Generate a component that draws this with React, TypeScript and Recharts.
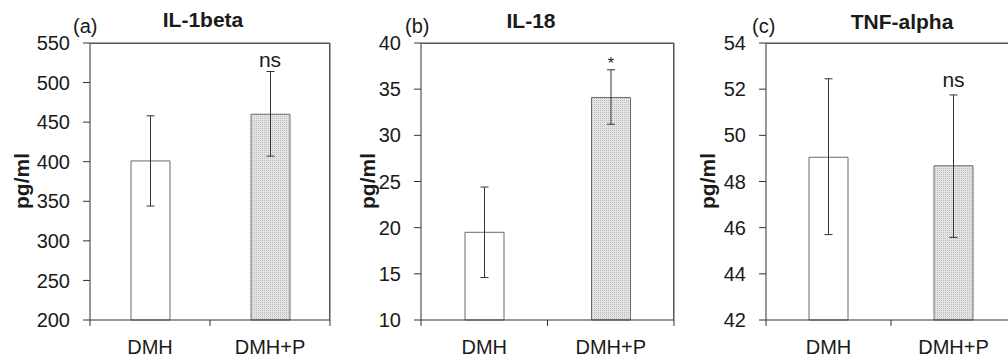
import React from 'react';
import {
  BarChart,
  Bar,
  XAxis,
  YAxis,
  ErrorBar,
  Cell,
  ReferenceDot,
  CartesianGrid,
} from 'recharts';

// ---------- data ----------
const categories = ['DMH', 'DMH+P'];

const il1bMean = [401, 460];
const il1bErrLow = [57, 53];
const il1bErrHigh = [57, 54];
const il1bSig = ['', 'ns'];
const il1bTicks = [200, 250, 300, 350, 400, 450, 500, 550];

const il18Mean = [19.5, 34.1];
const il18ErrLow = [4.9, 2.9];
const il18ErrHigh = [4.9, 3.0];
const il18Sig = ['', '*'];
const il18Ticks = [10, 15, 20, 25, 30, 35, 40];

const tnfMean = [49.05, 48.68];
const tnfErrLow = [3.35, 3.1];
const tnfErrHigh = [3.4, 3.07];
const tnfSig = ['', 'ns'];
const tnfTicks = [42, 44, 46, 48, 50, 52, 54];

const FONT = '"Liberation Sans", Arial, Helvetica, sans-serif';
const TEXT = '#1a1a1a';
const AXIS = '#333333';
const FRAME = '#555555';

const CHART_H = 359;
const MARGIN_TOP = 43;
const XAXIS_H = 39;

type Row = { name: string; pos: number; value: number; err: [number, number]; sig: string; errTop: number };

function buildRows(mean: number[], lo: number[], hi: number[], sig: string[]): Row[] {
  return categories.map((name, i) => ({
    name,
    pos: i + 0.5,
    value: mean[i],
    err: [lo[i], hi[i]],
    sig: sig[i],
    errTop: mean[i] + hi[i],
  }));
}

// x ticks: integers are band boundaries (tick marks), halves are category centres (labels)
const xTickValues = [0, 0.5, 1, 1.5, 2];

function XTick(props: any) {
  const { x, y, payload } = props;
  const v = payload.value as number;
  if (Number.isInteger(v)) {
    return <line x1={x} y1={y} x2={x} y2={y + 6} stroke={AXIS} strokeWidth={1} />;
  }
  return (
    <text x={x} y={y + 34} textAnchor="middle" fontSize={20} fill={TEXT} fontFamily={FONT}>
      {categories[Math.floor(v)]}
    </text>
  );
}

type PanelProps = {
  rows: Row[];
  ticks: number[];
  left: number;
  width: number;
  yAxisWidth: number;
  rightMargin: number;
  labelX: number;
  sigOffset: number;
  sigFontSize: number;
};

function Panel(p: PanelProps) {
  const domain: [number, number] = [p.ticks[0], p.ticks[p.ticks.length - 1]];
  const xDomain: [number, number] = [0, categories.length];
  const plotW = p.width - p.yAxisWidth - p.rightMargin;
  const plotH = CHART_H - MARGIN_TOP - XAXIS_H;
  return (
    <div style={{ position: 'absolute', left: p.left, top: 0, width: p.width, height: CHART_H }}>
      <BarChart
        width={p.width}
        height={CHART_H}
        data={p.rows}
        margin={{ top: MARGIN_TOP, right: p.rightMargin, bottom: 0, left: 0 }}
      >
        <CartesianGrid horizontalValues={[domain[1]]} verticalValues={[xDomain[1]]} stroke={FRAME} strokeWidth={1} />
        <XAxis
          dataKey="pos"
          type="number"
          domain={xDomain}
          ticks={xTickValues}
          interval={0}
          tickLine={false}
          tickSize={0}
          tickMargin={0}
          height={XAXIS_H}
          axisLine={{ stroke: AXIS }}
          tick={<XTick />}
        />
        <YAxis
          domain={domain}
          ticks={p.ticks}
          interval={0}
          width={p.yAxisWidth}
          tickSize={7}
          tickMargin={13}
          axisLine={{ stroke: AXIS }}
          tickLine={{ stroke: AXIS }}
          tick={{ fontSize: 20, fill: TEXT, fontFamily: FONT }}
          label={() => (
            <text
              x={p.labelX}
              y={181}
              transform={`rotate(-90, ${p.labelX}, 181)`}
              textAnchor="middle"
              dominantBaseline="central"
              fontSize={21}
              fontWeight="bold"
              fontFamily={FONT}
              fill={TEXT}
            >
              pg/ml
            </text>
          )}
        />
        <Bar dataKey="value" barSize={39} isAnimationActive={false} stroke="#6a6a6a" strokeWidth={1}>
          {p.rows.map((r, i) => (
            <Cell key={r.name} fill={i === 0 ? '#ffffff' : 'url(#dotFill)'} />
          ))}
          <ErrorBar dataKey="err" width={4} stroke="#333" strokeWidth={1} direction="y" isAnimationActive={false} />
        </Bar>
        {p.rows
          .filter((r) => r.sig)
          .map((r) => (
            <ReferenceDot
              key={r.name}
              x={r.pos}
              y={r.errTop}
              r={0}
              fill="none"
              stroke="none"
              label={{
                value: r.sig,
                position: 'top',
                offset: p.sigOffset,
                fontSize: p.sigFontSize,
                fill: TEXT,
                fontFamily: FONT,
              }}
            />
          ))}
      </BarChart>
      {/* plot frame (top and right edges of the plot area) */}
      <div
        style={{
          position: 'absolute',
          left: p.yAxisWidth,
          top: MARGIN_TOP,
          width: plotW,
          height: plotH,
          borderTop: `1px solid ${FRAME}`,
          borderRight: `1px solid ${FRAME}`,
          boxSizing: 'border-box',
          pointerEvents: 'none',
        }}
      />
    </div>
  );
}

export default function App() {
  const a = buildRows(il1bMean, il1bErrLow, il1bErrHigh, il1bSig);
  const b = buildRows(il18Mean, il18ErrLow, il18ErrHigh, il18Sig);
  const c = buildRows(tnfMean, tnfErrLow, tnfErrHigh, tnfSig);
  return (
    <div
      style={{
        position: 'absolute',
        left: 0,
        top: 0,
        width: 1008,
        height: 359,
        overflow: 'hidden',
        background: '#ffffff',
        fontFamily: FONT,
      }}
    >
      <svg width={0} height={0} style={{ position: 'absolute' }}>
        <defs>
          <pattern id="dotFill" width={2} height={2} patternUnits="userSpaceOnUse">
            <rect x={0} y={0} width={2} height={2} fill="#e4e4e4" />
            <rect x={0} y={0} width={1} height={1} fill="#bcbcbc" />
          </pattern>
        </defs>
      </svg>
      <Panel rows={a} ticks={il1bTicks} left={0} width={336} yAxisWidth={90} rightMargin={6} labelX={21} sigOffset={4} sigFontSize={21} />
      <Panel rows={b} ticks={il18Ticks} left={336} width={339} yAxisWidth={85} rightMargin={1} labelX={31} sigOffset={1} sigFontSize={16} />
      <Panel rows={c} ticks={tnfTicks} left={675} width={345} yAxisWidth={91} rightMargin={4} labelX={32} sigOffset={8} sigFontSize={21} />
      <svg width={1008} height={359} style={{ position: 'absolute', left: 0, top: 0, pointerEvents: 'none' }}>
        <g fontFamily={FONT} fill={TEXT}>
          <text x={203} y={27} textAnchor="middle" fontSize={21} fontWeight="bold">IL-1beta</text>
          <text x={531} y={28} textAnchor="middle" fontSize={21} fontWeight="bold">IL-18</text>
          <text x={902} y={29} textAnchor="middle" fontSize={21} fontWeight="bold">TNF-alpha</text>
          <text x={73} y={33} fontSize={20}>(a)</text>
          <text x={405} y={33} fontSize={20}>(b)</text>
          <text x={752} y={33} fontSize={20}>(c)</text>
        </g>
      </svg>
    </div>
  );
}
